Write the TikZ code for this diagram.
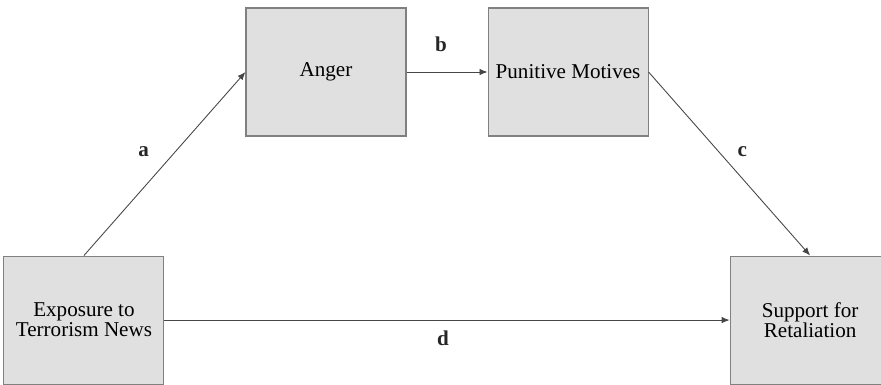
\documentclass[tikz,border=0pt]{standalone}
\usepackage{fontspec}
\setmainfont{Liberation Serif}
\usepackage{tikz}
\usetikzlibrary{arrows.meta, positioning, calc}
\definecolor{boxfill}{RGB}{224, 224, 224}
\definecolor{boxline}{RGB}{128, 128, 128}
\definecolor{pathline}{RGB}{70, 70, 70}

\begin{document}
\begin{tikzpicture}[
    box/.style={draw=boxline, fill=boxfill, line width=0.6pt, minimum width=3.2cm,
                minimum height=2.56cm, align=center, inner sep=0pt,
                font=\fontsize{12}{11.5}\selectfont},
    arr/.style={-{Latex[length=1.6mm, width=1.3mm]}, line width=0.5pt, pathline},
    lbl/.style={font=\fontsize{12}{12}\selectfont\bfseries, text=black!85}
]
    \useasboundingbox (0,0) rectangle (17.62,-7.68);

    \node[box] (anger) at (6.52,-1.44) {Anger};
    \node[box, right=1.62cm of anger] (punitive) {Punitive Motives};
    \node[box, below left=2.38cm and 1.62cm of anger] (exposure) {Exposure to\\Terrorism News};
    \node[box, below right=2.38cm and 1.62cm of punitive] (support) {Support for\\Retaliation};

    \draw[arr] (exposure.north) -- (anger.west)
        node[lbl, midway, xshift=-0.42cm, yshift=0.24cm] {a};
    \draw[arr] (anger) -- (punitive)
        node[lbl, midway, xshift=-0.12cm, yshift=0.56cm] {b};
    \draw[arr] (punitive.east) -- (support.north)
        node[lbl, midway, xshift=0.26cm, yshift=0.25cm] {c};
    \draw[arr] (exposure) -- (support)
        node[lbl, midway, xshift=-0.08cm, yshift=-0.36cm] {d};
\end{tikzpicture}
\end{document}
